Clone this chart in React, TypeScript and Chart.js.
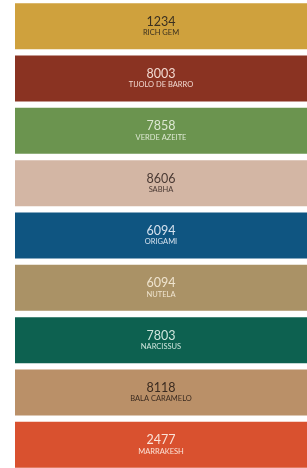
import React, { useEffect, useRef } from "react";
import { Chart, registerables } from "chart.js";

Chart.register(...registerables);

const codes = ["1234", "8003", "7858", "8606", "6094", "6094", "7803", "8118", "2477"];
const names = ["RICH GEM", "TIJOLO DE BARRO", "VERDE AZEITE", "SABHA", "ORIGAMI", "NUTELA", "NARCISSUS", "BALA CARAMELO", "MARRAKESH"];
const swatchValues = [1, 1, 1, 1, 1, 1, 1, 1, 1];
const colors = ["#CFA13D", "#8A3322", "#6B944F", "#D3B6A4", "#0F5581", "#AA9266", "#0D6150", "#BA9068", "#D9512F"];
const textColors = ["#3a3020", "#f2d9d0", "#dde8d2", "#4a3a34", "#d6e2ee", "#efe4cf", "#cfe6dd", "#3b2b20", "#fbe3d8"];

const labelPlugin = {
  id: "swatchLabels",
  afterDatasetsDraw(chart: any) {
    const ctx = chart.ctx;
    const meta = chart.getDatasetMeta(0);
    meta.data.forEach((el: any, i: number) => {
      const cx = (el.x + el.base) / 2;
      const cy = el.y;
      ctx.save();
      ctx.textAlign = "center";
      ctx.textBaseline = "middle";
      ctx.fillStyle = textColors[i];
      ctx.font = "12.5px Lato, 'DejaVu Sans', sans-serif";
      ctx.fillText(codes[i], cx, cy - 4.5);
      ctx.font = "7.5px Lato, 'DejaVu Sans', sans-serif";
      ctx.fillText(names[i], cx, cy + 6.5);
      ctx.restore();
    });
  },
};

export default function App() {
  const ref = useRef<HTMLCanvasElement>(null);
  useEffect(() => {
    document.body.style.margin = "0";
    document.body.style.overflow = "hidden";
    document.documentElement.style.overflow = "hidden";
    const chart = new Chart(ref.current!, {
      type: "bar",
      data: {
        labels: names,
        datasets: [
          {
            data: swatchValues,
            backgroundColor: colors,
            borderWidth: 0,
            barPercentage: 0.88,
            categoryPercentage: 1,
          },
        ],
      },
      options: {
        indexAxis: "y",
        responsive: false,
        animation: false,
        layout: { padding: { left: 15, right: 0, top: 0, bottom: 0 } },
        plugins: { legend: { display: false }, tooltip: { enabled: false } },
        scales: {
          x: { display: false, min: 0, max: 1 },
          y: { display: false },
        },
      },
      plugins: [labelPlugin],
    });
    return () => chart.destroy();
  }, []);
  return (
    <div style={{ width: 307, height: 468, overflow: "hidden", background: "#fff" }}>
      <canvas ref={ref} width={307} height={471} style={{ display: "block" }} />
    </div>
  );
}
